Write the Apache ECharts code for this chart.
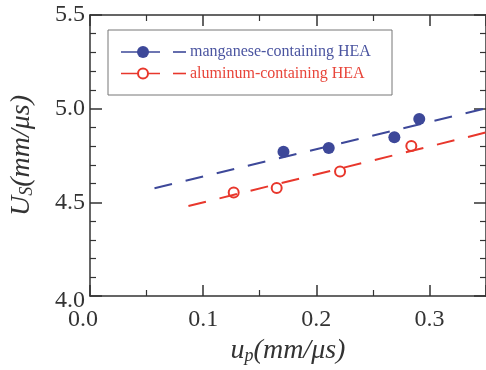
<!DOCTYPE html>
<html>
<head>
<meta charset="utf-8">
<script src="https://cdn.jsdelivr.net/npm/echarts@6/dist/echarts.min.js"></script>
<style>html,body{margin:0;padding:0;background:#fff;}#c{width:486px;height:370px;}</style>
</head>
<body>
<div id="c"></div>
<script>
// Data
const mnUp = [0.171, 0.211, 0.269, 0.291];
const mnUs = [4.770, 4.790, 4.848, 4.945];
const alUp = [0.127, 0.165, 0.221, 0.284];
const alUs = [4.553, 4.576, 4.664, 4.801];
const mnFitUp = [0.057, 0.35];
const mnFitUs = [4.575, 5.002];
const alFitUp = [0.087, 0.35];
const alFitUs = [4.480, 4.873];
const legendNames = ['manganese-containing HEA', 'aluminum-containing HEA'];
const xTickLabels = ['0.0', '0.1', '0.2', '0.3'];
const yTickLabels = ['4.0', '4.5', '5.0', '5.5'];

const BLUE = '#3d4899';
const RED = '#e8372c';
const AX = '#333';
const FONT = 'Liberation Serif';

const pair = (xs, ys) => xs.map((x, i) => [x, ys[i]]);

const axisCommon = {
  type: 'value',
  axisLine: { show: true, onZero: false, lineStyle: { color: AX, width: 1.5 } },
  axisTick: { show: true, inside: true, lineStyle: { color: AX, width: 1.5 } },
  minorTick: { show: true, lineStyle: { color: AX, width: 1.2 } },
  splitLine: { show: false },
  minorSplitLine: { show: false }
};

const chart = echarts.init(document.getElementById('c'), null, { renderer: 'canvas' });
chart.setOption({
  animation: false,
  backgroundColor: '#fff',
  grid: { left: 87, top: 15, right: -3.5, bottom: 74, containLabel: false },
  xAxis: [
    Object.assign({}, axisCommon, {
      position: 'bottom', min: 0, max: 0.35, interval: 0.1,
      axisTick: Object.assign({}, axisCommon.axisTick, { length: 11 }),
      minorTick: Object.assign({}, axisCommon.minorTick, { splitNumber: 2, length: 6 }),
      axisLabel: {
        show: true, margin: 12, color: '#333', fontFamily: FONT, fontSize: 24,
        showMaxLabel: false,
        formatter: function (v) {
          const idx = Math.round(v * 10);
          if (Math.abs(v * 10 - idx) > 1e-6 || idx < 0 || idx >= xTickLabels.length) return '';
          return idx === 0 ? '{f|' + xTickLabels[idx] + '}' : xTickLabels[idx];
        },
        rich: { f: { fontFamily: FONT, fontSize: 24, color: '#333', padding: [0, 14, 0, 0] } }
      },
      name: '{a|u}{b|p}{a|(mm/μs)}',
      nameLocation: 'middle', nameGap: 33,
      nameTextStyle: {
        rich: {
          a: { fontFamily: FONT, fontStyle: 'italic', fontSize: 28, color: '#333' },
          b: { fontFamily: FONT, fontStyle: 'italic', fontSize: 18, color: '#333', verticalAlign: 'bottom', padding: [10, 0, 0, 0] }
        }
      }
    }),
    Object.assign({}, axisCommon, {
      position: 'top', min: 0, max: 0.35, interval: 0.1,
      axisTick: Object.assign({}, axisCommon.axisTick, { length: 11 }),
      minorTick: Object.assign({}, axisCommon.minorTick, { splitNumber: 2, length: 6 }),
      axisLabel: { show: false }
    })
  ],
  yAxis: [
    Object.assign({}, axisCommon, {
      position: 'left', min: 4.0, max: 5.5, interval: 0.5,
      axisTick: Object.assign({}, axisCommon.axisTick, { length: 12 }),
      minorTick: Object.assign({}, axisCommon.minorTick, { splitNumber: 5, length: 6 }),
      axisLabel: {
        show: true, margin: 5, color: '#333', fontFamily: FONT, fontSize: 24,
        formatter: function (v) {
          const idx = Math.round((v - 4.0) * 2);
          if (idx < 0 || idx >= yTickLabels.length) return '';
          return idx === 0 ? '{l|' + yTickLabels[idx] + '}' : yTickLabels[idx];
        },
        rich: { l: { fontFamily: FONT, fontSize: 24, color: '#333', padding: [10, 0, 0, 0] } }
      },
      name: '{a|U}{b|S}{a|(mm/μs)}',
      nameLocation: 'middle', nameGap: 54, nameRotate: 90,
      nameTextStyle: {
        rich: {
          a: { fontFamily: FONT, fontStyle: 'italic', fontSize: 28, color: '#333' },
          b: { fontFamily: FONT, fontStyle: 'italic', fontSize: 18, color: '#333', verticalAlign: 'bottom', padding: [10, 0, 0, 0] }
        }
      }
    }),
    Object.assign({}, axisCommon, {
      position: 'right', min: 4.0, max: 5.5, interval: 0.5,
      axisTick: Object.assign({}, axisCommon.axisTick, { length: 12 }),
      minorTick: Object.assign({}, axisCommon.minorTick, { splitNumber: 5, length: 6 }),
      axisLabel: { show: false }
    })
  ],
  series: [
    {
      type: 'scatter', name: legendNames[0], xAxisIndex: 0, yAxisIndex: 0,
      data: pair(mnUp, mnUs), symbol: 'circle', symbolSize: 12,
      itemStyle: { color: BLUE, opacity: 1 }, z: 3
    },
    {
      type: 'scatter', name: legendNames[1], xAxisIndex: 0, yAxisIndex: 0,
      data: pair(alUp, alUs), symbol: 'circle', symbolSize: 10,
      itemStyle: { color: '#fff', borderColor: RED, borderWidth: 2, opacity: 1 }, z: 3
    },
    {
      type: 'line', xAxisIndex: 0, yAxisIndex: 0, data: pair(mnFitUp, mnFitUs),
      symbol: 'none', lineStyle: { color: BLUE, width: 2, type: [18, 14] }, z: 4
    },
    {
      type: 'line', xAxisIndex: 0, yAxisIndex: 0, data: pair(alFitUp, alFitUs),
      symbol: 'none', lineStyle: { color: RED, width: 2, type: [18, 14] }, z: 4
    }
  ],
  graphic: [
    { type: 'rect', shape: { x: 108, y: 30, width: 284, height: 65 }, style: { fill: '#fff', stroke: '#777', lineWidth: 1 }, z: 10 },
    { type: 'line', shape: { x1: 121, y1: 52, x2: 160, y2: 52 }, style: { stroke: BLUE, lineWidth: 1.6 }, z: 11 },
    { type: 'circle', shape: { cx: 143, cy: 52, r: 6 }, style: { fill: BLUE }, z: 12 },
    { type: 'line', shape: { x1: 173, y1: 52, x2: 186, y2: 52 }, style: { stroke: BLUE, lineWidth: 1.6 }, z: 11 },
    { type: 'text', x: 190, y: 52, style: { text: legendNames[0], fill: '#4a54a0', font: '16px "Liberation Serif"', textVerticalAlign: 'middle', verticalAlign: 'middle' }, z: 11 },
    { type: 'line', shape: { x1: 121, y1: 73.5, x2: 160, y2: 73.5 }, style: { stroke: RED, lineWidth: 1.6 }, z: 11 },
    { type: 'circle', shape: { cx: 143, cy: 73.5, r: 5 }, style: { fill: '#fff', stroke: RED, lineWidth: 2 }, z: 12 },
    { type: 'line', shape: { x1: 173, y1: 73.5, x2: 186, y2: 73.5 }, style: { stroke: RED, lineWidth: 1.6 }, z: 11 },
    { type: 'text', x: 190, y: 73.5, style: { text: legendNames[1], fill: '#e8453a', font: '16px "Liberation Serif"', textVerticalAlign: 'middle', verticalAlign: 'middle' }, z: 11 }
  ]
});
</script>
</body>
</html>
